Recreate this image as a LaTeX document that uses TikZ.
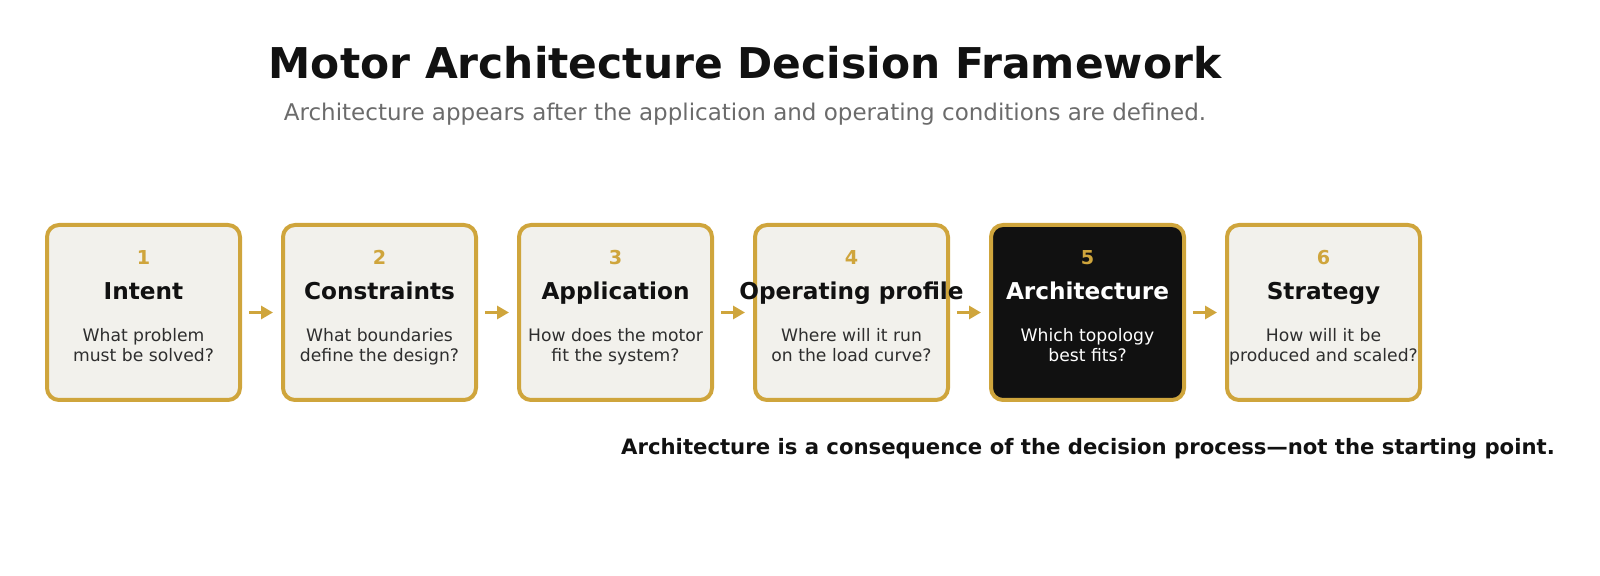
\documentclass[tikz,border=0pt]{standalone}
\usepackage{fontspec}
\setmainfont{DejaVu Sans}
\usepackage{xcolor}
\usetikzlibrary{positioning,arrows.meta}

\definecolor{gold}{HTML}{CFA53C}
\definecolor{paper}{HTML}{F2F1EC}
\definecolor{ink}{HTML}{111111}
\definecolor{muted}{HTML}{6B6B6B}
\definecolor{body}{HTML}{2E2E2E}

\tikzset{
  stagebox/.style={draw=gold, line width=2pt, rounded corners=6pt, fill=paper,
    minimum width=96.5pt, minimum height=87.5pt},
  keybox/.style={stagebox, fill=ink},
  flow/.style={gold, line width=1.7pt, -{Triangle[length=6pt,width=6.5pt]},
    shorten <=3.5pt, shorten >=4pt}
}

\begin{document}
\begin{tikzpicture}[x=0.5pt,y=-0.5pt]
\useasboundingbox (0,0) rectangle (1600,576);

% Heading
\node[ink, font=\fontsize{21.2}{26}\selectfont\bfseries] (title) at (745,63) {Motor Architecture Decision Framework};
\node[muted, font=\fontsize{11.5}{14}\selectfont] (sub) at (745,114) {Architecture appears after the application and operating conditions are defined.};

% Stages
\foreach \i/\name/\q [count=\k from 0] in {
  1/Intent/{What problem\\must be solved?},
  2/Constraints/{What boundaries\\define the design?},
  3/Application/{How does the motor\\fit the system?},
  4/Operating profile/{Where will it run\\on the load curve?},
  5/Architecture/{Which topology\\best fits?},
  6/Strategy/{How will it be\\produced and scaled?}}
{
  \ifnum\i=5
    \node[keybox] (s\i) at (143.5+236*\k,312.5) {};
    \def\tc{white}\def\dc{white}
  \else
    \node[stagebox] (s\i) at (143.5+236*\k,312.5) {};
    \def\tc{ink}\def\dc{body}
  \fi
  \node[gold, font=\fontsize{9.6}{11}\selectfont\bfseries] (n\i) at ([yshift=27.5pt]s\i.center) {\i};
  \node[text=\tc, font=\fontsize{11.6}{14}\selectfont\bfseries, text height=8.8pt, text depth=2.6pt] (t\i) at ([yshift=9.6pt]s\i.center) {\name};
  \node[text=\dc, font=\fontsize{8.6}{10}\selectfont, align=center, anchor=north] (d\i) at ([yshift=-4.6pt]s\i.center) {\q};
}

% Arrows
\foreach \a/\b in {1/2,2/3,3/4,4/5,5/6}
  \draw[flow] (s\a.east) -- (s\b.west);

% Footnote
\node[ink, font=\fontsize{10.6}{12}\selectfont\bfseries] (note) at (1088,449) {Architecture is a consequence of the decision process—not the starting point.};
\end{tikzpicture}
\end{document}
